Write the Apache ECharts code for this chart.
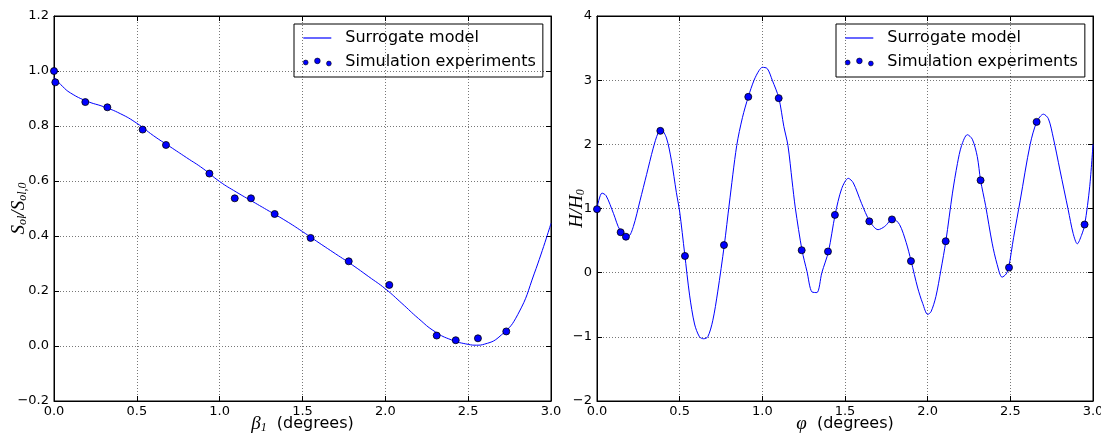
<!DOCTYPE html>
<html>
<head>
<meta charset="utf-8">
<script src="https://cdn.jsdelivr.net/npm/echarts@6/dist/echarts.min.js"></script>
<style>
  html, body { margin: 0; padding: 0; background: #fff; }
  #chart { width: 1101px; height: 435px; }
</style>
</head>
<body>
<div id="chart"></div>
<script>
// left panel: S_ol / S_ol,0 vs beta_1
const leftCurveX = [0, 0.05, 0.1, 0.2, 0.3, 0.4, 0.5, 0.6, 0.7, 0.8, 0.9, 1.0, 1.1, 1.2, 1.3, 1.4, 1.5, 1.6, 1.7, 1.8, 1.9, 2.0, 2.1, 2.2, 2.3, 2.4, 2.5, 2.55, 2.6, 2.7, 2.8, 2.9, 3.0]
const leftCurveY = [0.977, 0.945, 0.92, 0.89, 0.87, 0.845, 0.81, 0.765, 0.725, 0.685, 0.645, 0.598, 0.56, 0.525, 0.49, 0.455, 0.416, 0.375, 0.335, 0.295, 0.252, 0.208, 0.155, 0.1, 0.052, 0.022, 0.006, 0.003, 0.007, 0.04, 0.115, 0.265, 0.446]
const leftExpX = [0, 0.008, 0.189, 0.322, 0.535, 0.676, 0.938, 1.091, 1.189, 1.332, 1.549, 1.779, 2.024, 2.31, 2.425, 2.559, 2.73]
const leftExpY = [1.0, 0.959, 0.887, 0.868, 0.787, 0.731, 0.627, 0.537, 0.537, 0.48, 0.393, 0.308, 0.222, 0.038, 0.021, 0.028, 0.053]

// right panel: H / H_0 vs phi
const rightCurveX = [0, 0.03, 0.055, 0.1, 0.14, 0.19, 0.22, 0.26, 0.3, 0.34, 0.37, 0.39, 0.42, 0.45, 0.48, 0.5, 0.53, 0.56, 0.59, 0.62, 0.645, 0.67, 0.7, 0.73, 0.77, 0.8, 0.845, 0.88, 0.915, 0.95, 0.98, 1.0, 1.03, 1.06, 1.1, 1.13, 1.155, 1.18, 1.2, 1.24, 1.27, 1.3, 1.33, 1.36, 1.4, 1.44, 1.48, 1.52, 1.55, 1.6, 1.65, 1.7, 1.74, 1.79, 1.83, 1.87, 1.9, 1.94, 1.97, 2.0, 2.02, 2.05, 2.08, 2.11, 2.15, 2.18, 2.205, 2.24, 2.27, 2.3, 2.32, 2.35, 2.39, 2.42, 2.45, 2.475, 2.49, 2.52, 2.56, 2.62, 2.66, 2.7, 2.73, 2.76, 2.8, 2.85, 2.88, 2.905, 2.93, 2.95, 2.98, 3.0]
const rightCurveY = [1.0, 1.24, 1.2, 0.92, 0.66, 0.57, 0.72, 1.12, 1.53, 1.94, 2.18, 2.22, 2.1, 1.75, 1.25, 0.95, 0.3, -0.35, -0.8, -1.0, -1.03, -1.0, -0.75, -0.3, 0.43, 1.07, 1.98, 2.42, 2.74, 3.0, 3.15, 3.2, 3.18, 3.0, 2.72, 2.28, 1.98, 1.43, 1.0, 0.35, 0.02, -0.3, -0.31, 0.0, 0.33, 0.9, 1.31, 1.47, 1.4, 1.08, 0.8, 0.67, 0.72, 0.84, 0.75, 0.47, 0.18, -0.24, -0.48, -0.65, -0.61, -0.37, 0.04, 0.49, 1.24, 1.7, 1.98, 2.15, 2.08, 1.81, 1.44, 1.05, 0.46, 0.13, -0.07, -0.02, 0.08, 0.55, 1.13, 2.0, 2.35, 2.47, 2.4, 2.1, 1.6, 0.98, 0.61, 0.45, 0.58, 0.75, 1.34, 2.0]
const rightExpX = [0, 0.143, 0.175, 0.383, 0.532, 0.768, 0.915, 1.099, 1.238, 1.397, 1.439, 1.647, 1.784, 1.899, 2.109, 2.32, 2.492, 2.659, 2.949]
const rightExpY = [0.99, 0.63, 0.56, 2.21, 0.26, 0.43, 2.74, 2.72, 0.35, 0.33, 0.9, 0.8, 0.83, 0.18, 0.49, 1.44, 0.08, 2.35, 0.75]

const seriesNames = ['Surrogate model', 'Simulation experiments']

const pairs = (xs, ys) => xs.map((x, i) => [x, ys[i]])
const minus = (s) => s.replace('-', '\u2212')
const fmt1 = (v) => minus((Math.abs(v) < 1e-9 ? 0 : v).toFixed(1))
const fmt0 = (v) => minus(String(Math.round(v)))

const dotsIcon = 'path://M0,4.4a2.4,2.4 0 1,0 4.8,0a2.4,2.4 0 1,0 -4.8,0Z M11.2,2.8a2.8,2.8 0 1,0 5.6,0a2.8,2.8 0 1,0 -5.6,0Z M23,5.4a2.4,2.4 0 1,0 4.8,0a2.4,2.4 0 1,0 -4.8,0Z'

const mathRich = {
  i: { fontFamily: 'Liberation Serif', fontStyle: 'italic', fontSize: 19, color: '#000' },
  sub: { fontFamily: 'Liberation Serif', fontStyle: 'italic', fontSize: 12, color: '#000', padding: [8, 0, 0, 0] },
  n: { fontFamily: 'DejaVu Sans', fontSize: 16, color: '#000' }
}

const gridLine = { show: true, lineStyle: { color: '#777', width: 1, type: [1, 2] } }
const axisLine = { show: true, onZero: false, lineStyle: { color: '#000', width: 1 } }
const tick = { show: true, inside: true, length: 5, lineStyle: { color: '#000' } }
const label = (formatter) => ({ color: '#000', fontFamily: 'DejaVu Sans', fontSize: 13, formatter })

const makeX = (gridIndex, name) => ([
  {
    gridIndex, type: 'value', min: 0, max: 3, interval: 0.5,
    name, nameLocation: 'middle', nameGap: 13, nameMoveOverlap: false, nameTextStyle: { rich: mathRich },
    axisLine, axisTick: tick, splitLine: gridLine,
    axisLabel: { ...label(fmt1), margin: 4 }
  },
  {
    gridIndex, type: 'value', position: 'top', min: 0, max: 3, interval: 0.5,
    axisLine, axisTick: tick, splitLine: { show: false }, axisLabel: { show: false }
  }
])

const makeY = (gridIndex, min, max, interval, formatter, name, nameGap) => ([
  {
    gridIndex, type: 'value', min, max, interval,
    name, nameLocation: 'middle', nameRotate: 90, nameGap, nameMoveOverlap: false, nameTextStyle: { rich: mathRich },
    axisLine, axisTick: tick, splitLine: gridLine,
    axisLabel: { ...label(formatter), margin: 5 }
  },
  {
    gridIndex, type: 'value', position: 'right', min, max, interval,
    axisLine, axisTick: tick, splitLine: { show: false }, axisLabel: { show: false }
  }
])

const makeLegend = (left) => ({
  left, top: 24, orient: 'vertical',
  borderColor: '#000', borderWidth: 1, borderRadius: 0,
  padding: [6, 7, 7, 9], itemGap: 8,
  itemWidth: 28, itemHeight: 8,
  textStyle: { fontFamily: 'DejaVu Sans', fontSize: 16, color: '#000', lineHeight: 16, padding: [0, 0, 0, 9] },
  data: [
    { name: seriesNames[0], icon: 'path://M0,0H28V1.2H0Z' },
    { name: seriesNames[1], icon: dotsIcon, itemStyle: { color: '#0000ff', borderColor: '#000', borderWidth: 0.6 } }
  ]
})

const lineSeries = (axis, xs, ys, smooth) => ({
  name: seriesNames[0], type: 'line', xAxisIndex: axis, yAxisIndex: axis,
  data: pairs(xs, ys), smooth, symbol: 'none',
  lineStyle: { color: '#0000ff', width: 1 }, itemStyle: { color: '#0000ff' }, z: 2
})

const scatterSeries = (axis, xs, ys) => ({
  name: seriesNames[1], type: 'scatter', xAxisIndex: axis, yAxisIndex: axis,
  data: pairs(xs, ys), symbolSize: 7,
  itemStyle: { color: '#0000ff', borderColor: '#000', borderWidth: 0.8, opacity: 1 }, z: 3
})

const gridBase = { top: 16, height: 385, show: true, borderColor: '#000', borderWidth: 1, backgroundColor: '#fff', containLabel: false, outerBoundsMode: 'none' }

const chart = echarts.init(document.getElementById('chart'), null, { renderer: 'canvas' })
chart.setOption({
  animation: false,
  backgroundColor: '#fff',
  grid: [
    { ...gridBase, left: 54, width: 497 },
    { ...gridBase, left: 597, width: 496 }
  ],
  legend: [makeLegend(294), makeLegend(836)],
  xAxis: [
    ...makeX(0, '{i|\u03b2}{sub|1}{n|  (degrees)}'),
    ...makeX(1, '{i|\u03c6}{n|  (degrees)}')
  ],
  yAxis: [
    ...makeY(0, -0.2, 1.2, 0.2, fmt1, '{i|S}{sub|ol}{i|/S}{sub|ol,0}', 25),
    ...makeY(1, -2, 4, 1, fmt0, '{i|H/H}{sub|0}', 10)
  ],
  series: [
    lineSeries(0, leftCurveX, leftCurveY, 0.5),
    scatterSeries(0, leftExpX, leftExpY),
    lineSeries(2, rightCurveX, rightCurveY, 0.3),
    scatterSeries(2, rightExpX, rightExpY)
  ]
})
</script>
</body>
</html>
